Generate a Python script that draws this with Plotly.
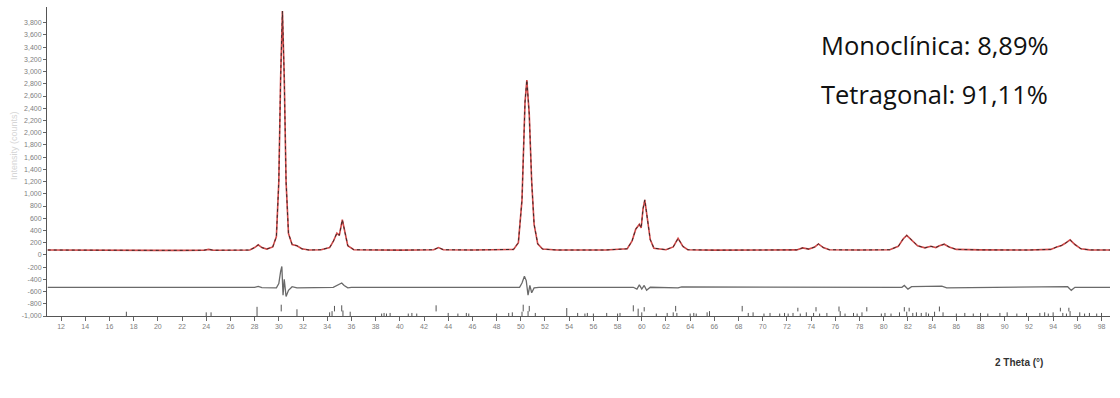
import plotly.graph_objects as go

# ---------------- data ----------------
two_theta = [10.9, 12, 14, 16, 18, 20, 22, 23.8, 24.2, 24.6, 27.6, 28.0, 28.3, 28.6, 29.0,
             29.5, 29.8, 30.0, 30.15, 30.3, 30.45, 30.6, 30.8, 31.1, 31.5, 31.9, 32.5, 33.5,
             34.2, 34.5, 34.8, 35.0, 35.25, 35.45, 35.7, 36.2, 38, 40, 42.8, 43.2, 43.6, 46,
             49.4, 49.8, 50.1, 50.35, 50.5, 50.7, 50.9, 51.1, 51.4, 51.8, 53, 55, 57, 58.8,
             59.2, 59.5, 59.8, 59.95, 60.1, 60.25, 60.45, 60.7, 61.0, 62.0, 62.6, 63.0, 63.4,
             63.8, 66, 70, 72.8, 73.3, 73.8, 74.3, 74.6, 75.0, 75.5, 78, 80.5, 81.2, 81.6,
             81.9, 82.3, 82.8, 83.4, 83.9, 84.3, 84.6, 85.0, 85.4, 86, 88, 92, 93.8, 94.3,
             94.7, 95.0, 95.4, 95.8, 96.3, 97, 98.7]
intensity = [80, 78, 76, 75, 74, 74, 74, 76, 90, 76, 80, 120, 165, 120, 95,
             130, 300, 1200, 2900, 3990, 2900, 1200, 350, 170, 150, 100, 80, 85,
             120, 220, 356, 320, 575, 380, 150, 85, 80, 78, 85, 120, 85, 80,
             90, 200, 900, 2500, 2860, 2300, 1200, 500, 180, 95, 80, 78, 80, 100,
             230, 420, 500, 440, 750, 900, 600, 250, 110, 85, 130, 270, 140,
             85, 78, 78, 82, 115, 95, 130, 180, 120, 85, 80, 85, 140, 260,
             320, 240, 150, 115, 140, 120, 150, 175, 130, 90, 82, 80, 90, 130,
             155, 190, 246, 170, 100, 82, 80]

diff_theta = [10.9, 28.0, 28.3, 28.6, 29.8, 30.0, 30.15, 30.25, 30.35, 30.45, 30.6, 30.8,
              31.1, 31.5, 34.5, 34.9, 35.2, 35.4, 35.7, 36, 49.9, 50.1, 50.3, 50.45, 50.6,
              50.75, 50.9, 51.1, 51.5, 59.3, 59.6, 59.8, 60.0, 60.2, 60.4, 60.7, 63, 63.3,
              81.5, 81.7, 82.0, 82.3, 84.8, 85.2, 95.2, 95.5, 95.8, 98.7]
difference = [-530, -530, -515, -535, -540, -470, -270, -190, -660, -400, -680, -580,
              -520, -540, -530, -490, -460, -500, -540, -530, -530, -460, -350, -420, -660,
              -500, -620, -540, -530, -530, -560, -490, -560, -500, -580, -530, -540, -525,
              -530, -500, -560, -520, -510, -540, -520, -580, -530, -530]

tetra_pos = [30.2, 34.6, 35.2, 43.0, 50.2, 50.7, 59.3, 60.2, 62.8, 68.3, 72.9, 74.4,
             76.3, 78.6, 81.7, 82.1, 84.6, 94.6, 95.3]
tetra_h = [110, 90, 100, 100, 110, 90, 100, 70, 90, 90, 60, 70, 80, 70, 70, 60, 80, 60, 60]

mono_pos = [17.4, 24.0, 24.4, 28.2, 31.5, 34.2, 34.4, 35.3, 35.9, 38.5, 38.7, 38.9, 39.2,
            40.7, 41.0, 41.4, 44.0, 44.8, 45.5, 45.7, 48.0, 49.0, 49.3, 50.1, 50.6, 51.2,
            53.8, 54.7, 55.3, 55.5, 56.0, 57.1, 58.0, 58.2, 59.7, 60.0, 61.2, 62.1, 62.6,
            62.9, 64.0, 64.3, 64.5, 65.4, 65.6, 68.8, 69.2, 70.1, 70.6, 71.4, 71.8, 72.1,
            72.5, 73.1, 73.6, 74.2, 74.7, 75.3, 76.4, 76.8, 77.5, 77.8, 78.2, 79.8, 80.1,
            80.6, 81.3, 81.9, 82.4, 82.7, 83.1, 83.5, 83.7, 84.2, 84.9, 86.0, 86.7, 87.4,
            88.0, 88.6, 89.6, 90.2, 91.0, 91.8, 92.9, 93.3, 93.6, 94.0, 94.8, 95.1, 95.4,
            96.2, 96.6, 97.0, 97.6, 98.0]
mono_h = [70, 60, 60, 150, 110, 60, 80, 90, 70, 40, 50, 40, 50, 40, 50, 40, 50, 40, 50, 40,
          40, 50, 60, 70, 80, 50, 130, 50, 40, 50, 40, 50, 40, 50, 120, 60, 40, 50, 60, 50,
          40, 50, 40, 60, 80, 50, 60, 40, 50, 40, 50, 40, 50, 40, 60, 50, 40, 50, 80, 40,
          50, 40, 60, 40, 50, 40, 60, 70, 50, 60, 50, 60, 40, 70, 60, 40, 50, 40, 50, 40,
          50, 60, 40, 50, 50, 60, 40, 60, 50, 40, 80, 60, 40, 50, 40, 50]

tetra_base = -925
mono_base = -1000

y_tickvals = list(range(-1000, 3801, 200))
x_tickvals = list(range(12, 99, 2))

# ---------------- figure ----------------
fig = go.Figure()

def stick_trace(pos, heights, base, color):
    xs, ys = [], []
    for p, h in zip(pos, heights):
        xs += [p, p, None]
        ys += [base, base + h, None]
    return go.Scatter(x=xs, y=ys, mode="lines", line=dict(color=color, width=1),
                      hoverinfo="skip", showlegend=False)

fig.add_trace(stick_trace(mono_pos, mono_h, mono_base, "#555555"))
fig.add_trace(stick_trace(tetra_pos, tetra_h, tetra_base, "#555555"))

fig.add_trace(go.Scatter(x=diff_theta, y=difference, mode="lines",
                         line=dict(color="#6a6a6a", width=1.3), showlegend=False))
fig.add_trace(go.Scatter(x=two_theta, y=intensity, mode="lines",
                         line=dict(color="#d24a4a", width=1.6), showlegend=False))
fig.add_trace(go.Scatter(x=two_theta, y=intensity, mode="lines",
                         line=dict(color="#3a2a2a", width=1, dash="dot"), showlegend=False))

tick_font = dict(family="Liberation Sans, Arial, sans-serif", size=7, color="#808080")

fig.update_layout(
    width=1120, height=398,
    margin=dict(l=47, r=10, t=7, b=82),
    paper_bgcolor="white", plot_bgcolor="white",
    xaxis=dict(range=[10.84, 98.7], tickvals=x_tickvals, ticktext=[str(v) for v in x_tickvals],
               showgrid=False, zeroline=False, showline=True, linecolor="#555555",
               linewidth=1, ticks="outside", ticklen=4, tickcolor="#666666",
               tickfont=tick_font),
    yaxis=dict(range=[-1000, 4057], tickvals=y_tickvals,
               ticktext=[f"{v:,}" for v in y_tickvals],
               showgrid=False, zeroline=False, showline=True, linecolor="#555555",
               linewidth=1, ticks="outside", ticklen=3, tickcolor="#666666",
               tickfont=tick_font),
    annotations=[
        dict(text="Monoclínica: 8,89%", xref="paper", yref="paper", x=0.726, y=0.877,
             xanchor="left", yanchor="middle", showarrow=False,
             font=dict(family="Open Sans", size=25.5, color="#111111")),
        dict(text="Tetragonal: 91,11%", xref="paper", yref="paper", x=0.726, y=0.72,
             xanchor="left", yanchor="middle", showarrow=False,
             font=dict(family="Open Sans", size=25.5, color="#111111")),
        dict(text="<b>2 Theta (°)</b>", xref="paper", yref="paper", x=0.914, y=-0.152,
             xanchor="center", yanchor="middle", showarrow=False,
             font=dict(family="Liberation Sans, Arial, sans-serif", size=10, color="#333333")),
        dict(text="Intensity (counts)", xref="paper", yref="paper", x=-0.031, y=0.55,
             xanchor="center", yanchor="middle", textangle=-90, showarrow=False,
             font=dict(family="Liberation Sans, Arial, sans-serif", size=9, color="#d5d5d5")),
    ],
)

fig.write_html("out.html")
